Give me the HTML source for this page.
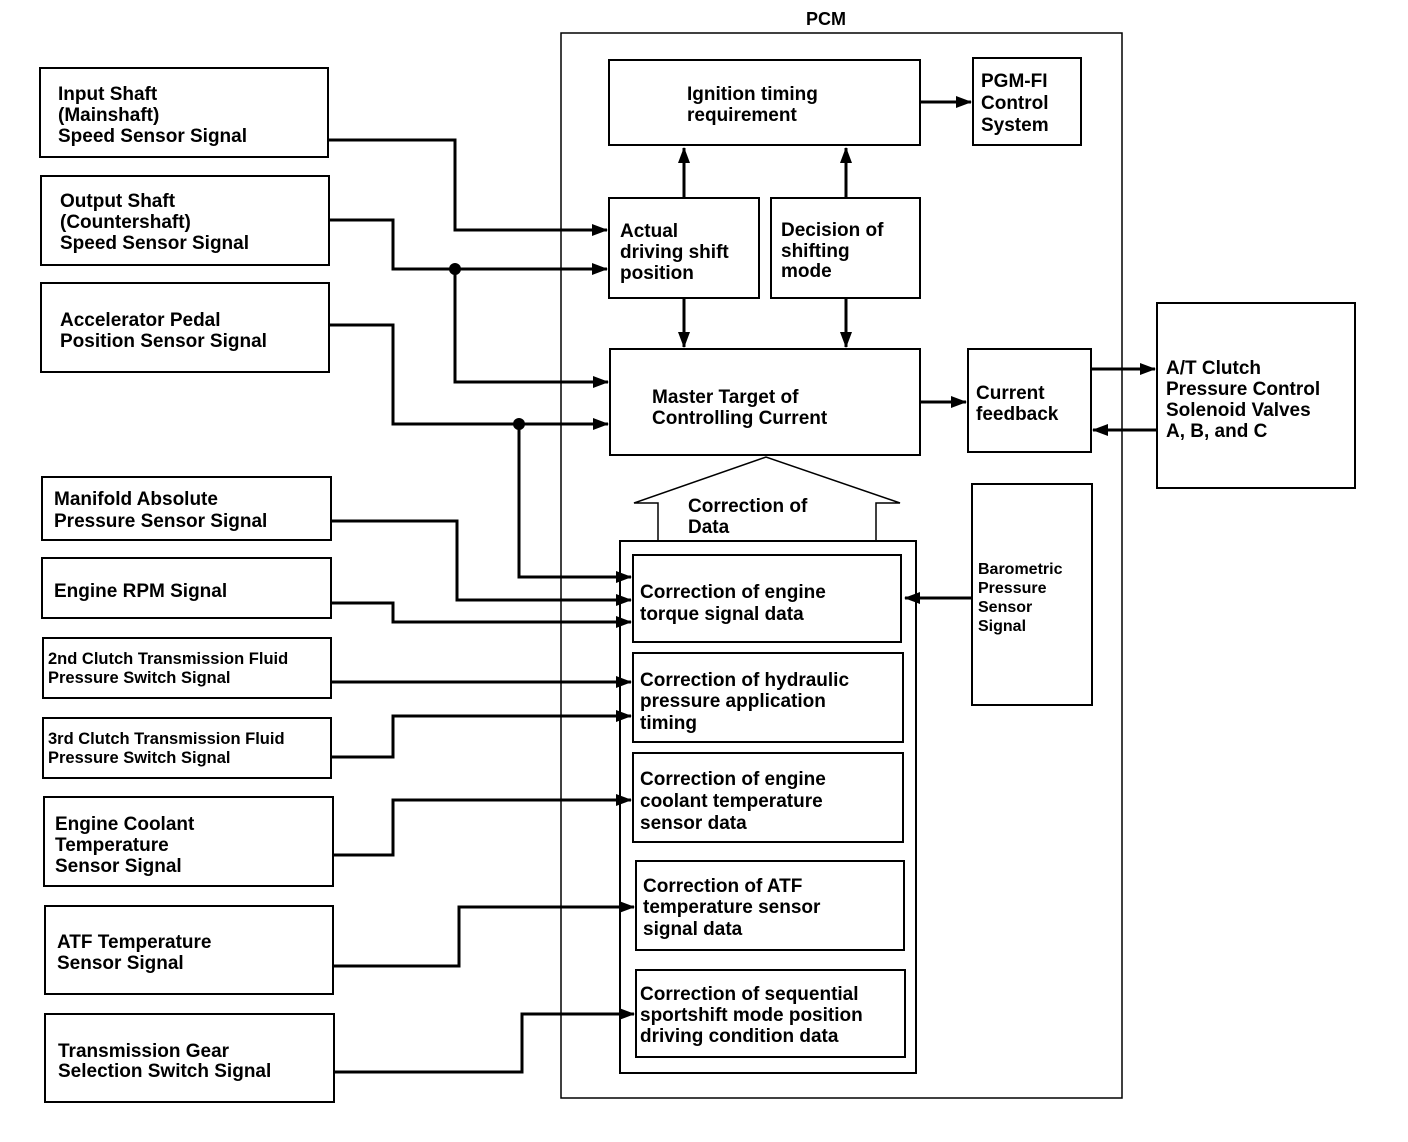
<!DOCTYPE html>
<html><head><meta charset="utf-8"><style>html,body{margin:0;padding:0;background:#fff}svg{display:block}</style></head>
<body>
<svg width="1408" height="1142" viewBox="0 0 1408 1142" xmlns="http://www.w3.org/2000/svg" font-family="Liberation Sans, Arial, sans-serif" font-weight="bold" font-size="19">
<defs><marker id="a" markerWidth="10" markerHeight="8" refX="9" refY="4" orient="auto" markerUnits="userSpaceOnUse"><path d="M0,0 L10,4 L0,8 z" fill="#000"/></marker>
<marker id="b" markerWidth="16" markerHeight="12" refX="15" refY="6" orient="auto" markerUnits="userSpaceOnUse"><path d="M0,0 L16,6 L0,12 z" fill="#000"/></marker></defs>
<g fill="none" stroke="#000" stroke-width="2">
<rect x="561" y="33" width="561" height="1065" stroke-width="1.5"/>
<rect x="40" y="68" width="288" height="89"/>
<rect x="41" y="176" width="288" height="89"/>
<rect x="41" y="283" width="288" height="89"/>
<rect x="42" y="477" width="289" height="63"/>
<rect x="42" y="558" width="289" height="60"/>
<rect x="43" y="638" width="288" height="60"/>
<rect x="43" y="718" width="288" height="60"/>
<rect x="44" y="797" width="289" height="89"/>
<rect x="45" y="906" width="288" height="88"/>
<rect x="45" y="1014" width="289" height="88"/>
<rect x="609" y="60" width="311" height="85"/>
<rect x="973" y="58" width="108" height="87"/>
<rect x="609" y="198" width="150" height="100"/>
<rect x="771" y="198" width="149" height="100"/>
<rect x="610" y="349" width="310" height="106"/>
<rect x="968" y="349" width="123" height="103"/>
<rect x="1157" y="303" width="198" height="185"/>
<rect x="972" y="484" width="120" height="221"/>
<rect x="620" y="541" width="296" height="532"/>
<rect x="633" y="555" width="268" height="87"/>
<rect x="633" y="653" width="270" height="89"/>
<rect x="633" y="753" width="270" height="89"/>
<rect x="636" y="861" width="268" height="89"/>
<rect x="636" y="970" width="269" height="87"/>
<path d="M658,541 V503 H634 L766,457 L900,503 H876 V541" stroke-width="1.5"/>
</g>
<g fill="none" stroke="#000" stroke-width="3">
<path d="M920,102 H971" marker-end="url(#b)"/>
<path d="M684,198 V148" marker-end="url(#b)"/>
<path d="M846,198 V148" marker-end="url(#b)"/>
<path d="M684,298 V347" marker-end="url(#b)"/>
<path d="M846,298 V347" marker-end="url(#b)"/>
<path d="M920,402 H966" marker-end="url(#b)"/>
<path d="M1091,369 H1155" marker-end="url(#b)"/>
<path d="M1157,430 H1093" marker-end="url(#b)"/>
<path d="M972,598 H905" marker-end="url(#b)"/>
<path d="M328,140 H455 V230 H607" marker-end="url(#b)"/>
<path d="M329,220 H393 V269 H607" marker-end="url(#b)"/>
<path d="M455,269 V382 H608" marker-end="url(#b)"/>
<path d="M329,325 H393 V424 H608" marker-end="url(#b)"/>
<path d="M519,424 V577 H631" marker-end="url(#b)"/>
<path d="M331,521 H457 V600 H631" marker-end="url(#b)"/>
<path d="M331,603 H393 V622 H631" marker-end="url(#b)"/>
<path d="M331,682 H631" marker-end="url(#b)"/>
<path d="M331,757 H393 V716 H631" marker-end="url(#b)"/>
<path d="M333,855 H393 V800 H631" marker-end="url(#b)"/>
<path d="M333,966 H459 V907 H634" marker-end="url(#b)"/>
<path d="M334,1072 H522 V1014 H634" marker-end="url(#b)"/>
</g>
<circle cx="455" cy="269" r="6"/><circle cx="519" cy="424" r="6"/>
<g fill="#000">
<text x="806" y="25" font-size="18">PCM</text>
<text x="58" y="100">Input Shaft</text><text x="58" y="121">(Mainshaft)</text><text x="58" y="142">Speed Sensor Signal</text>
<text x="60" y="207">Output Shaft</text><text x="60" y="228">(Countershaft)</text><text x="60" y="249">Speed Sensor Signal</text>
<text x="60" y="326">Accelerator Pedal</text><text x="60" y="347">Position Sensor Signal</text>
<text x="54" y="505">Manifold Absolute</text><text x="54" y="527">Pressure Sensor Signal</text>
<text x="54" y="597">Engine RPM Signal</text>
<text x="48" y="664" font-size="16.5">2nd Clutch Transmission Fluid</text><text x="48" y="683" font-size="16.5">Pressure Switch Signal</text>
<text x="48" y="744" font-size="16.5">3rd Clutch Transmission Fluid</text><text x="48" y="763" font-size="16.5">Pressure Switch Signal</text>
<text x="55" y="830">Engine Coolant</text><text x="55" y="851">Temperature</text><text x="55" y="872">Sensor Signal</text>
<text x="57" y="948">ATF Temperature</text><text x="57" y="969">Sensor Signal</text>
<text x="58" y="1057">Transmission Gear</text><text x="58" y="1077">Selection Switch Signal</text>
<text x="687" y="100">Ignition timing</text><text x="687" y="121">requirement</text>
<text x="981" y="87">PGM-FI</text><text x="981" y="109">Control</text><text x="981" y="131">System</text>
<text x="620" y="237">Actual</text><text x="620" y="258">driving shift</text><text x="620" y="279">position</text>
<text x="781" y="236">Decision of</text><text x="781" y="257">shifting</text><text x="781" y="277">mode</text>
<text x="652" y="403">Master Target of</text><text x="652" y="424">Controlling Current</text>
<text x="976" y="399">Current</text><text x="976" y="420">feedback</text>
<text x="1166" y="374">A/T Clutch</text><text x="1166" y="395">Pressure Control</text><text x="1166" y="416">Solenoid Valves</text><text x="1166" y="437">A, B, and C</text>
<text x="978" y="574" font-size="16">Barometric</text><text x="978" y="593" font-size="16">Pressure</text><text x="978" y="612" font-size="16">Sensor</text><text x="978" y="631" font-size="16">Signal</text>
<text x="688" y="512">Correction of</text><text x="688" y="533">Data</text>
<text x="640" y="598">Correction of engine</text><text x="640" y="620">torque signal data</text>
<text x="640" y="686">Correction of hydraulic</text><text x="640" y="707">pressure application</text><text x="640" y="729">timing</text>
<text x="640" y="785">Correction of engine</text><text x="640" y="807">coolant temperature</text><text x="640" y="829">sensor data</text>
<text x="643" y="892">Correction of ATF</text><text x="643" y="913">temperature sensor</text><text x="643" y="935">signal data</text>
<text x="640" y="1000">Correction of sequential</text><text x="640" y="1021">sportshift mode position</text><text x="640" y="1042">driving condition data</text>
</g>
</svg>
</body></html>
